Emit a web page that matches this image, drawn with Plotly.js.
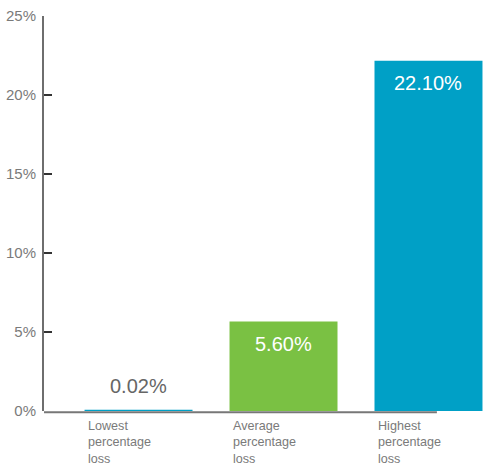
<!DOCTYPE html>
<html>
<head>
<meta charset="utf-8">
<script src="https://cdn.plot.ly/plotly-3.0.1.min.js"></script>
<style>html,body{margin:0;padding:0;background:#fff;}#chart{width:483px;height:468px;}</style>
</head>
<body>
<div id="chart"></div>
<script>
const categories = ["Lowest<br>percentage<br>loss", "Average<br>percentage<br>loss", "Highest<br>percentage<br>loss"];
const values = [0.02, 5.60, 22.10];
const valueLabels = ["0.02%", "5.60%", "22.10%"];
const barColors = ["#00A0C6", "#7AC143", "#00A0C6"];
const yTickVals = [0, 5, 10, 15, 20, 25];
const yTickText = ["0%", "5%", "10%", "15%", "20%", "25%"];

const xIdx = categories.map((c, i) => i);
const barWidth = 0.731;

const annotations = [];
categories.forEach((c, i) => {
  annotations.push({
    x: i - barWidth / 2, y: 0, xref: 'x', yref: 'y',
    text: c, showarrow: false, xanchor: 'left', yanchor: 'top', align: 'left',
    yshift: -6,
    font: {family: 'Liberation Sans, Arial, sans-serif', size: 12.6, color: '#7a7a7a'}
  });
  const inside = values[i] > 2;
  annotations.push({
    x: i, y: values[i], xref: 'x', yref: 'y',
    text: valueLabels[i], showarrow: false, xanchor: 'center',
    yanchor: inside ? 'top' : 'bottom',
    yshift: inside ? -8 : 12,
    font: {family: 'Liberation Sans, Arial, sans-serif', size: 20, color: inside ? '#ffffff' : '#666666'}
  });
});

const data = [{
  type: 'bar', x: xIdx, y: values, width: barWidth,
  marker: {color: barColors, line: {width: 2, color: barColors}},
  hoverinfo: 'none'
}];

const layout = {
  width: 483, height: 468,
  margin: {l: 44, r: 0, t: 16, b: 57, pad: 0},
  paper_bgcolor: '#ffffff', plot_bgcolor: '#ffffff',
  showlegend: false,
  xaxis: {range: [-0.652, 2.376], showticklabels: false, ticks: '', showgrid: false, zeroline: false, showline: false, fixedrange: true},
  yaxis: {range: [0, 25], tickvals: yTickVals, ticktext: yTickText, ticks: 'inside', ticklen: 8, tickwidth: 2, tickcolor: '#333333',
          showline: true, linecolor: '#6e6e6e', linewidth: 2, showgrid: false, zeroline: false,
          tickfont: {family: 'Liberation Sans, Arial, sans-serif', size: 15, color: '#7a7a7a'}, ticklabelstandoff: 3, fixedrange: true},
  shapes: [{type: 'line', xref: 'paper', yref: 'paper', x0: 0, x1: 0.895, y0: -0.003, y1: -0.003, line: {color: '#777777', width: 2}, layer: 'below'}],
  annotations: annotations,
  font: {family: 'Liberation Sans, Arial, sans-serif'}
};

Plotly.newPlot('chart', data, layout, {displayModeBar: false, staticPlot: true});
</script>
</body>
</html>
